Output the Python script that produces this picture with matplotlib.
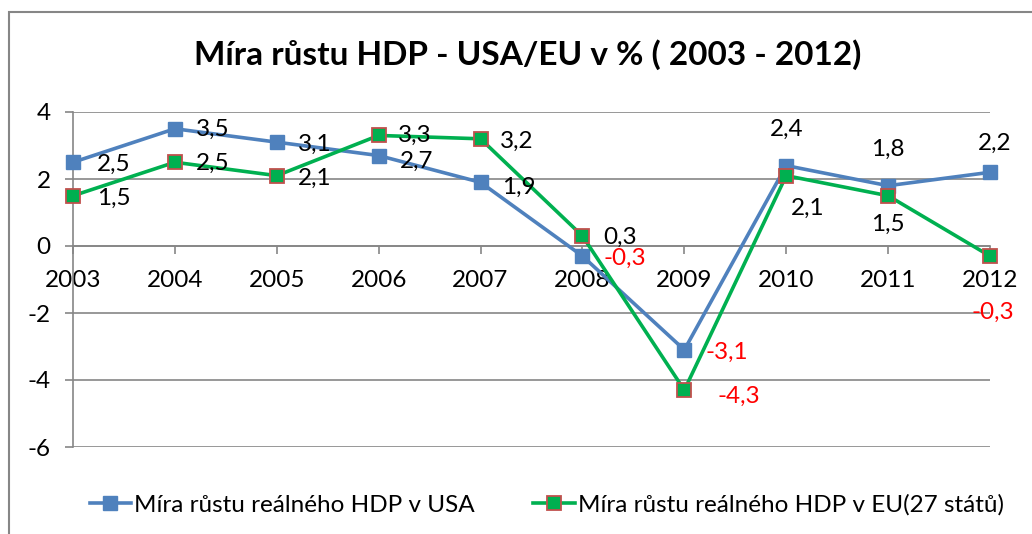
import matplotlib
matplotlib.use("Agg")
import matplotlib.pyplot as plt
from matplotlib.patches import Rectangle

plt.rcParams['font.family'] = ['Lato', 'DejaVu Sans']

# data
years = ["2003", "2004", "2005", "2006", "2007", "2008", "2009", "2010", "2011", "2012"]
usa = [2.5, 3.5, 3.1, 2.7, 1.9, -0.3, -3.1, 2.4, 1.8, 2.2]
eu = [1.5, 2.5, 2.1, 3.3, 3.2, 0.3, -4.3, 2.1, 1.5, -0.3]
usa_name = "Míra růstu reálného HDP v USA"
eu_name = "Míra růstu reálného HDP v EU(27 států)"
title = "Míra růstu HDP - USA/EU v % ( 2003 - 2012)"

# label placement (pixel offsets from the point, ha)
usa_lab = [(24, -2, 'left'), (21, -1, 'left'), (21, -2, 'left'), (21, -6, 'left'),
           (21, -5, 'left'), (21, -2, 'left'), (21, -2, 'left'), (0, 36, 'center'),
           (0, 36, 'center'), (5, 29, 'center')]
eu_lab = [(24, -3, 'left'), (21, -1, 'left'), (21, -3, 'left'), (19, 0, 'left'),
          (19, -3, 'left'), (21, -1, 'left'), (33, -6, 'left'), (21, -33, 'center'),
          (0, -29, 'center'), (3, -56, 'center')]

BLUE = '#4F81BD'
GREEN = '#00B050'
RED_EDGE = '#C0504D'
GRID = '#868686'

fig = plt.figure(figsize=(10.32, 5.34), dpi=100)
ax = fig.add_axes([73 / 1032, 1 - 447 / 534, (990 - 73) / 1032, (447 - 112) / 534])

x = list(range(len(years)))
ax.plot(x, usa, color=BLUE, lw=2.6, marker='s', ms=10, mfc=BLUE, mec=BLUE,
        label=usa_name, zorder=3, clip_on=False)
ax.plot(x, eu, color=GREEN, lw=2.6, marker='s', ms=9.5, mfc=GREEN, mec=RED_EDGE,
        mew=1.3, label=eu_name, zorder=4, clip_on=False)

for xi, v, (dx, dy, ha) in zip(x, usa, usa_lab):
    ax.annotate(f"{v:.1f}".replace('.', ','), (xi, v), xytext=(dx, dy),
                textcoords='offset pixels', ha=ha, va='center', fontsize=17.5,
                color='red' if v < 0 else 'black', zorder=5)
for xi, v, (dx, dy, ha) in zip(x, eu, eu_lab):
    ax.annotate(f"{v:.1f}".replace('.', ','), (xi, v), xytext=(dx, dy),
                textcoords='offset pixels', ha=ha, va='center', fontsize=17.5,
                color='red' if v < 0 else 'black', zorder=5)

ax.set_xlim(0, 9)
ax.set_ylim(-6, 4)
ax.set_yticks([-6, -4, -2, 0, 2, 4])
ax.set_yticklabels(['-6', '-4', '-2', '0', '2', '4'])
ax.set_xticks(x)
ax.set_xticklabels(years)

ax.yaxis.grid(True, color=GRID, lw=1.2)
ax.set_axisbelow(True)
for s in ['top', 'right']:
    ax.spines[s].set_visible(False)
ax.spines['bottom'].set_position(('data', 0))
ax.spines['bottom'].set_color(GRID)
ax.spines['bottom'].set_linewidth(1.2)
ax.spines['left'].set_color(GRID)
ax.spines['left'].set_linewidth(1.2)
ax.tick_params(axis='y', length=6, width=1.2, color=GRID, pad=10, labelsize=17.5)
ax.tick_params(axis='x', length=6, width=1.2, color=GRID, pad=11, labelsize=17.5)

fig.text(0.511, 1 - 55 / 534, title, ha='center', va='center', fontsize=24,
         fontweight='bold')

fig.legend(loc='center', bbox_to_anchor=(0.53, 1 - 505 / 534), ncol=2, frameon=False,
           fontsize=17.5, handlelength=1.7, handletextpad=0.15, columnspacing=2.4)

# outer chart frame
fig.patches.append(Rectangle((9 / 1032, -0.1), 1.2, 1 - 12 / 534 + 0.1,
                             transform=fig.transFigure, fill=False,
                             edgecolor=GRID, lw=1.5))

fig.savefig('out.png', dpi=100)
